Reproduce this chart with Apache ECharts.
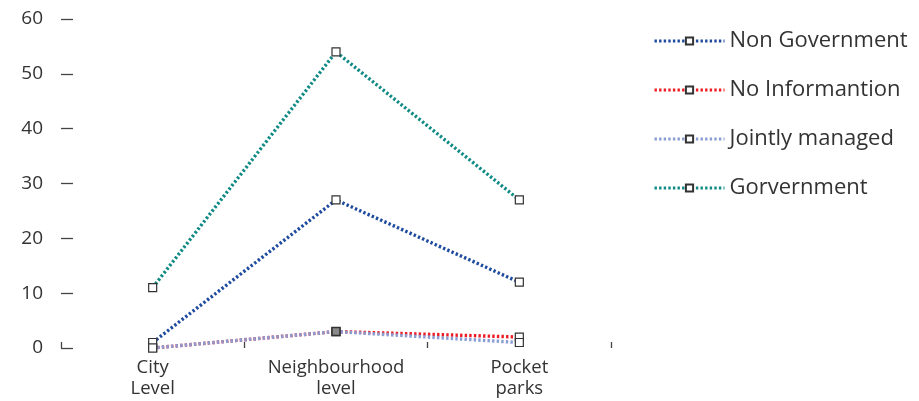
<!DOCTYPE html>
<html>
<head>
<meta charset="utf-8">
<script src="https://cdn.jsdelivr.net/npm/echarts@6/dist/echarts.min.js"></script>
<style>
  html, body { margin: 0; padding: 0; background: #fff; }
  #chart { width: 919px; height: 401px; }
</style>
</head>
<body>
<div id="chart"></div>
<script>
// Park management by park level
const categories = ['City\nLevel', 'Neighbourhood\nlevel', 'Pocket\nparks'];
const nonGovernment = [1, 27, 12];
const noInformation = [0, 3, 2];
const jointlyManaged = [0, 3, 1];
const government = [11, 54, 27];
const yTicks = [0, 10, 20, 30, 40, 50, 60];

const seriesDefs = [
  { name: 'Non Government', data: nonGovernment, color: '#1f4b9e' },
  { name: 'No Informantion', data: noInformation, color: '#ee1c25' },
  { name: 'Jointly managed', data: jointlyManaged, color: '#8a9dd2' },
  { name: 'Gorvernment', data: government, color: '#0f8a85' }
];

const chart = echarts.init(document.getElementById('chart'), null, { renderer: 'canvas' });

const font = '"Open Sans", "Noto Sans", sans-serif';
const dotted = { width: 3.4, type: [2.4, 2.2], cap: 'butt' };

chart.setOption({
  animation: false,
  backgroundColor: '#ffffff',
  grid: { left: 61, right: 308, top: 19, bottom: 53 },
  legend: {
    orient: 'vertical',
    left: 648,
    top: 25,
    itemGap: 27,
    itemWidth: 70,
    itemHeight: 9,
    lineStyle: { width: 3, type: [2.4, 2.2] },
    textStyle: { fontFamily: font, fontSize: 22, color: '#333', padding: [0, 0, 0, 0] },
    data: seriesDefs.map(s => s.name)
  },
  xAxis: {
    type: 'category',
    data: categories,
    boundaryGap: true,
    axisLine: { show: false },
    axisTick: { show: true, inside: true, length: 6, lineStyle: { color: '#444', width: 1.3 } },
    axisLabel: { fontFamily: font, fontSize: 18.5, color: '#333', lineHeight: 21, margin: 9 }
  },
  yAxis: {
    type: 'value',
    min: yTicks[0],
    max: yTicks[yTicks.length - 1],
    interval: 10,
    splitLine: { show: false },
    axisLine: { show: false },
    axisTick: { show: true, inside: true, length: 12, lineStyle: { color: '#444', width: 1.3 } },
    axisLabel: { fontFamily: font, fontSize: 19, color: '#333', margin: 18 }
  },
  series: seriesDefs.map(s => ({
    name: s.name,
    type: 'line',
    data: s.data.map((v, i) => {
      // the shared Neighbourhood point of the jointly managed line is drawn as a filled marker
      if (s.name === 'Jointly managed' && i === 1) {
        return { value: v, itemStyle: { color: '#8a8a8a', borderColor: '#333', borderWidth: 1.5 } };
      }
      return v;
    }),
    color: s.color,
    symbol: 'rect',
    symbolSize: 8,
    showSymbol: true,
    itemStyle: { color: '#ffffff', borderColor: '#333', borderWidth: 1.2 },
    lineStyle: Object.assign({ color: s.color }, dotted),
    emphasis: { disabled: true }
  }))
});
</script>
</body>
</html>
